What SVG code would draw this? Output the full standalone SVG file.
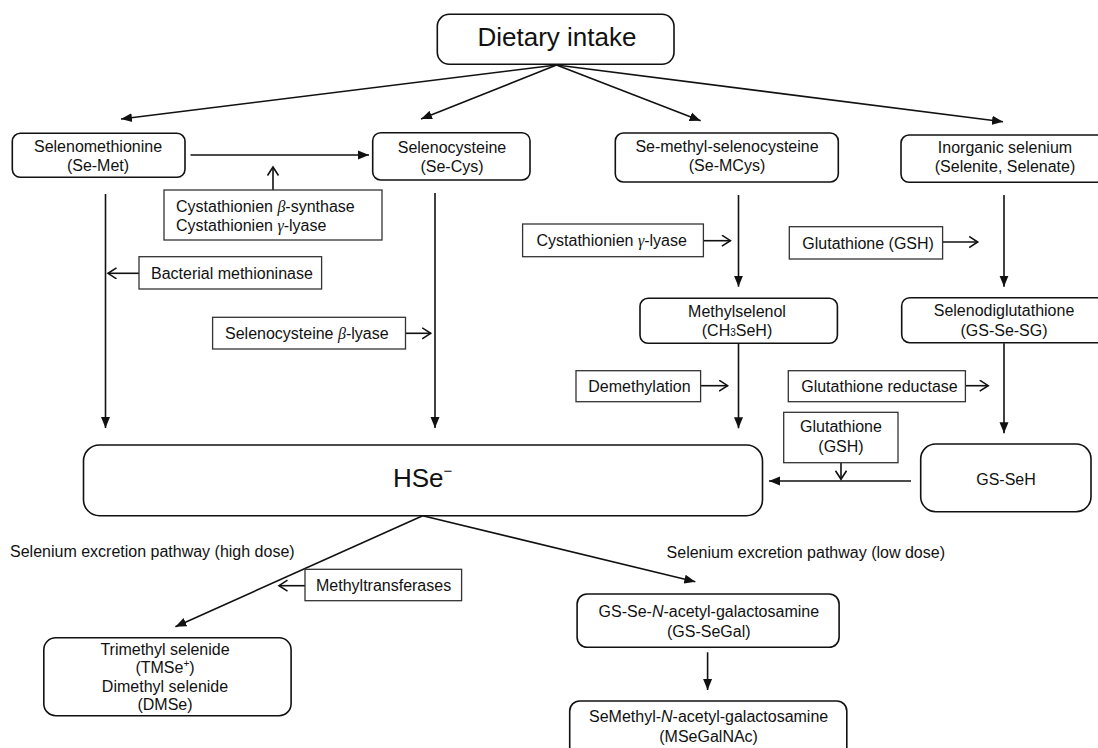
<svg xmlns="http://www.w3.org/2000/svg" width="1098" height="748" viewBox="0 0 1098 748">
<style>
  text { font-family: "Liberation Sans", Arial, sans-serif; font-size: 16px; fill: #111; }
  .c { text-anchor: middle; }
  .node { fill: #fff; stroke: #111; stroke-width: 1.6; }
  .enz { fill: #fff; stroke: #333; stroke-width: 1.3; }
  .ln { fill: none; stroke: #111; stroke-width: 1.6; }
  .gk { font-family: "Liberation Serif", "Times New Roman", serif; font-style: italic; }
  .it { font-style: italic; }
</style>
<defs>
  <marker id="arr" markerUnits="userSpaceOnUse" markerWidth="12" markerHeight="10" refX="11" refY="5" orient="auto">
    <path d="M0,0.5 L11,5 L0,9.5 z" fill="#111"/>
  </marker>
  <marker id="open" markerUnits="userSpaceOnUse" markerWidth="12" markerHeight="14" refX="9" refY="6" orient="auto">
    <path d="M0.5,0.5 L9,6 L0.5,11.5" fill="none" stroke="#111" stroke-width="1.6"/>
  </marker>
</defs>
<rect width="1098" height="748" fill="#fff"/>

<g id="connectors">
  <path class="ln" marker-end="url(#arr)" d="M556.5,65 L121,119"/>
  <path class="ln" marker-end="url(#arr)" d="M556.5,65 L421,119"/>
  <path class="ln" marker-end="url(#arr)" d="M556.5,65 L700.6,120.7"/>
  <path class="ln" marker-end="url(#arr)" d="M556.5,65 L1003,121.7"/>
  <path class="ln" marker-end="url(#arr)" d="M190.5,155 L369,155"/>
  <path class="ln" marker-end="url(#open)" d="M273,190 L273,167"/>
  <path class="ln" marker-end="url(#arr)" d="M105.5,194 L105.5,428"/>
  <path class="ln" marker-end="url(#arr)" d="M435,193 L435,428"/>
  <path class="ln" marker-end="url(#open)" d="M139,273.3 L108,273.3"/>
  <path class="ln" marker-end="url(#open)" d="M405.5,333.3 L430.7,333.3"/>
  <path class="ln" marker-end="url(#arr)" d="M738.5,195 L738.5,286.7"/>
  <path class="ln" marker-end="url(#arr)" d="M1004,195 L1004,286.7"/>
  <path class="ln" marker-end="url(#open)" d="M703.4,240.7 L730.4,240.7"/>
  <path class="ln" marker-end="url(#open)" d="M942.6,242 L977.7,242"/>
  <path class="ln" marker-end="url(#arr)" d="M738.5,343.3 L738.5,428.3"/>
  <path class="ln" marker-end="url(#arr)" d="M1004,343.3 L1004,433.3"/>
  <path class="ln" marker-end="url(#open)" d="M700.6,385.7 L727.6,385.7"/>
  <path class="ln" marker-end="url(#open)" d="M965.4,385.7 L988.2,385.7"/>
  <path class="ln" marker-end="url(#open)" d="M841,462.7 L841,479.3"/>
  <path class="ln" marker-end="url(#arr)" d="M911,481 L769,481"/>
  <path class="ln" marker-end="url(#arr)" d="M422.7,515.7 L175.4,626.7"/>
  <path class="ln" marker-end="url(#arr)" d="M422.7,515.7 L695.3,581.7"/>
  <path class="ln" marker-end="url(#open)" d="M305,585.7 L279,585.7"/>
  <path class="ln" marker-end="url(#arr)" d="M707.6,652.3 L707.6,690"/>
</g>

<g id="dietary">
  <rect class="node" x="437.3" y="14.3" width="236.7" height="50" rx="12"/>
  <text x="557" y="46" class="c" style="font-size:26px">Dietary intake</text>
</g>

<g id="semet">
  <rect class="node" x="12.3" y="133.3" width="172.7" height="44" rx="8"/>
  <text x="98" y="152" class="c">Selenomethionine</text>
  <text x="98" y="171" class="c">(Se-Met)</text>
</g>

<g id="secys">
  <rect class="node" x="372.7" y="132.7" width="157.3" height="47.3" rx="8"/>
  <text x="452" y="153" class="c">Selenocysteine</text>
  <text x="452" y="172" class="c">(Se-Cys)</text>
</g>

<g id="semcys">
  <rect class="node" x="615.3" y="133" width="223" height="49" rx="8"/>
  <text x="727" y="152" class="c">Se-methyl-selenocysteine</text>
  <text x="727" y="171" class="c">(Se-MCys)</text>
</g>

<g id="inorganic">
  <rect class="node" x="901" y="135" width="210" height="47.3" rx="8"/>
  <text x="1005" y="153" class="c">Inorganic selenium</text>
  <text x="1005" y="172" class="c">(Selenite, Selenate)</text>
</g>

<g id="cbs">
  <rect class="enz" x="164" y="190" width="218" height="50"/>
  <text x="176" y="212">Cystathionien <tspan class="gk">β</tspan>-synthase</text>
  <text x="176" y="231">Cystathionien <tspan class="gk">γ</tspan>-lyase</text>
</g>

<g id="methioninase">
  <rect class="enz" x="139" y="256.7" width="182.6" height="32.3"/>
  <text x="151" y="278.5">Bacterial methioninase</text>
</g>

<g id="scly">
  <rect class="enz" x="212.6" y="317.3" width="192.9" height="31.7"/>
  <text x="225" y="339">Selenocysteine <tspan class="gk">β</tspan>-lyase</text>
</g>

<g id="cgl">
  <rect class="enz" x="522.6" y="224" width="180.8" height="32.7"/>
  <text x="536.5" y="246">Cystathionien <tspan class="gk">γ</tspan>-lyase</text>
</g>

<g id="gsh1">
  <rect class="enz" x="789.3" y="226.7" width="153.3" height="32.3"/>
  <text x="802.3" y="248.5">Glutathione (GSH)</text>
</g>

<g id="methylselenol">
  <rect class="node" x="640" y="298.3" width="197.4" height="45" rx="8"/>
  <text x="737" y="317" class="c">Methylselenol</text>
  <text x="737" y="336" class="c">(CH<tspan style="font-size:10px">3</tspan>SeH)</text>
</g>

<g id="gssesg">
  <rect class="node" x="901.7" y="297.7" width="210" height="45" rx="8"/>
  <text x="1004" y="316" class="c">Selenodiglutathione</text>
  <text x="1004" y="336" class="c">(GS-Se-SG)</text>
</g>

<g id="demethylation">
  <rect class="enz" x="576" y="370.7" width="124.6" height="31"/>
  <text x="588.3" y="391.5">Demethylation</text>
</g>

<g id="gr">
  <rect class="enz" x="788.3" y="370.7" width="177.1" height="31"/>
  <text x="801.2" y="391.5">Glutathione reductase</text>
</g>

<g id="gsh2">
  <rect class="enz" x="783.7" y="412.3" width="114.3" height="50.4"/>
  <text x="841" y="432" class="c">Glutathione</text>
  <text x="841" y="452" class="c">(GSH)</text>
</g>

<g id="hse">
  <rect class="node" x="83.5" y="445" width="679" height="70.7" rx="16"/>
  <text x="393" y="487" style="font-size:26px">HSe<tspan dy="-11" style="font-size:15px">−</tspan></text>
</g>

<g id="gsseh">
  <rect class="node" x="920.7" y="444" width="170.3" height="67.7" rx="15"/>
  <text x="1006" y="485" class="c">GS-SeH</text>
</g>

<g id="labels">
  <text x="10" y="556.5">Selenium excretion pathway (high dose)</text>
  <text x="666.6" y="558">Selenium excretion pathway (low dose)</text>
</g>

<g id="methyltransferases">
  <rect class="enz" x="305" y="569.3" width="156.6" height="31.4"/>
  <text x="316" y="590.5">Methyltransferases</text>
</g>

<g id="tmse">
  <rect class="node" x="43.8" y="637.7" width="247.3" height="78" rx="12"/>
  <text x="165" y="654.5" class="c">Trimethyl selenide</text>
  <text x="165" y="673" class="c">(TMSe<tspan dy="-6" style="font-size:10px">+</tspan><tspan dy="6">)</tspan></text>
  <text x="165" y="691.5" class="c">Dimethyl selenide</text>
  <text x="165" y="710" class="c">(DMSe)</text>
</g>

<g id="gssegal">
  <rect class="node" x="577.1" y="594" width="262" height="53.3" rx="10"/>
  <text x="708.8" y="616.7" class="c">GS-Se-<tspan class="it">N</tspan>-acetyl-galactosamine</text>
  <text x="708.8" y="636.7" class="c">(GS-SeGal)</text>
</g>

<g id="msegalnac">
  <rect class="node" x="569.7" y="701" width="277.1" height="60" rx="10"/>
  <text x="708.6" y="721.7" class="c">SeMethyl-<tspan class="it">N</tspan>-acetyl-galactosamine</text>
  <text x="708.6" y="741.7" class="c">(MSeGalNAc)</text>
</g>
</svg>
